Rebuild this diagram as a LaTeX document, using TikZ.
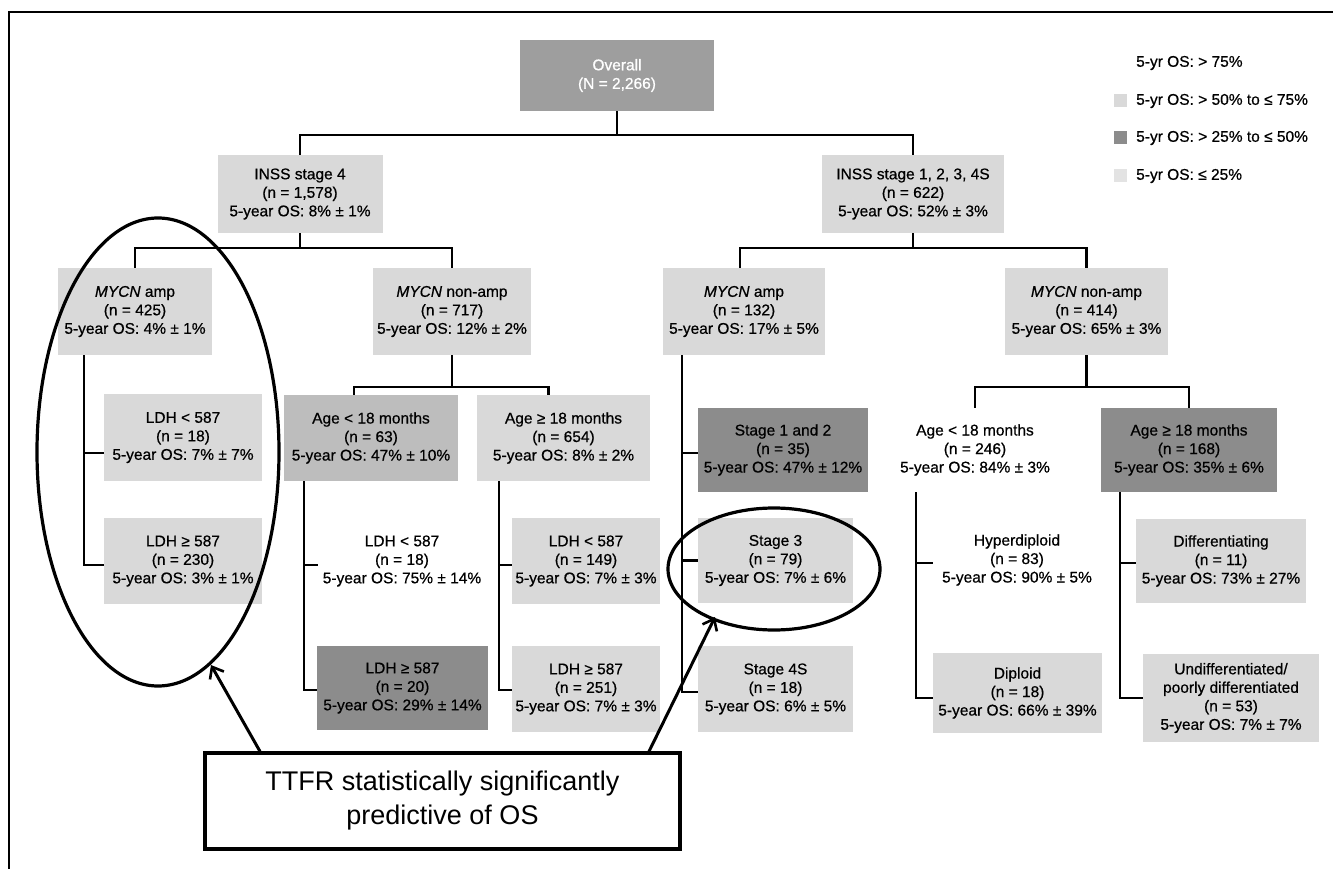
\documentclass[tikz,border=0pt]{standalone}
\usepackage{fontspec}
\setmainfont{Liberation Sans}[FakeBold=0.6]
\newfontfamily\calloutfont{Liberation Sans}
\usetikzlibrary{arrows.meta}
\definecolor{cLight}{gray}{0.85}
\definecolor{cPale}{gray}{0.89}
\definecolor{cMid}{gray}{0.74}
\definecolor{cDark}{gray}{0.55}
\definecolor{cTop}{gray}{0.62}
\begin{document}
\begin{tikzpicture}[x=1pt,y=-1pt,
  bx/.style={inner sep=0pt, align=center, font=\fontsize{15.5}{18.5}\selectfont},
  lt/.style={bx, fill=cLight},
  md/.style={bx, fill=cMid},
  dk/.style={bx, fill=cDark},
  wt/.style={bx},
  conn/.style={line width=2.4pt},
  ring/.style={line width=3.2pt},
  callout/.style={line width=3pt, -{Straight Barb[length=10pt,width=16pt,line width=2.6pt]}},
  legtext/.style={anchor=west, inner sep=0pt, font=\fontsize{15.5}{18}\selectfont},
  swatch/.style={inner sep=0pt, minimum width=13pt, minimum height=13pt}
]
\fill[white] (0,0) rectangle (1333,869);
\useasboundingbox (0,0) rectangle (1333,869);
% frame
\draw[line width=1.2pt] (9,869) -- (9,12) -- (1333,12);

% level 0
\node[bx, fill=cTop, text=white, minimum width=194pt, minimum height=71pt] (overall) at (617,75.5) {Overall\\(N = 2,266)};
% level 1
\node[lt, minimum width=165pt, minimum height=78pt] (inss4) at (300,194) {INSS stage 4\\(n = 1,578)\\5-year OS: 8\% ± 1\%};
\node[lt, minimum width=182pt, minimum height=78pt] (inssR) at (913,194) {INSS stage 1, 2, 3, 4S\\(n = 622)\\5-year OS: 52\% ± 3\%};
% level 2
\node[lt, minimum width=154pt, minimum height=87pt] (mycnA1) at (135,311.5) {\textit{MYCN} amp\\(n = 425)\\5-year OS: 4\% ± 1\%};
\node[lt, minimum width=158pt, minimum height=87pt] (mycnN1) at (452,311.5) {\textit{MYCN} non-amp\\(n = 717)\\5-year OS: 12\% ± 2\%};
\node[lt, minimum width=162pt, minimum height=87pt] (mycnA2) at (744,311.5) {\textit{MYCN} amp\\(n = 132)\\5-year OS: 17\% ± 5\%};
\node[lt, minimum width=163pt, minimum height=87pt] (mycnN2) at (1086.5,311.5) {\textit{MYCN} non-amp\\(n = 414)\\5-year OS: 65\% ± 3\%};
% level 3 left
\node[lt, minimum width=158pt, minimum height=87pt] (ldh1a) at (183,437.5) {LDH < 587\\(n = 18)\\5-year OS: 7\% ± 7\%};
\node[lt, minimum width=158pt, minimum height=86pt] (ldh1b) at (183,561) {LDH ≥ 587\\(n = 230)\\5-year OS: 3\% ± 1\%};
\node[md, minimum width=174pt, minimum height=86pt] (age1a) at (371,438) {Age < 18 months\\(n = 63)\\5-year OS: 47\% ± 10\%};
\node[lt, minimum width=173pt, minimum height=86pt] (age1b) at (563.5,438) {Age ≥ 18 months\\(n = 654)\\5-year OS: 8\% ± 2\%};
\node[wt, minimum width=168pt, minimum height=86pt] (ldh2a) at (402,561) {LDH < 587\\(n = 18)\\5-year OS: 75\% ± 14\%};
\node[dk, minimum width=171pt, minimum height=84pt] (ldh2b) at (402.5,688) {LDH ≥ 587\\(n = 20)\\5-year OS: 29\% ± 14\%};
\node[lt, minimum width=148pt, minimum height=86pt] (ldh3a) at (586,561) {LDH < 587\\(n = 149)\\5-year OS: 7\% ± 3\%};
\node[lt, minimum width=148pt, minimum height=86pt] (ldh3b) at (586,689) {LDH ≥ 587\\(n = 251)\\5-year OS: 7\% ± 3\%};
% level 3 right
\node[dk, minimum width=170pt, minimum height=84pt] (stage12) at (783,450) {Stage 1 and 2\\(n = 35)\\5-year OS: 47\% ± 12\%};
\node[lt, minimum width=155pt, minimum height=85pt] (stage3) at (775.5,560.5) {Stage 3\\(n = 79)\\5-year OS: 7\% ± 6\%};
\node[lt, minimum width=155pt, minimum height=86pt] (stage4s) at (775.5,689) {Stage 4S\\(n = 18)\\5-year OS: 6\% ± 5\%};
\node[wt, minimum width=160pt, minimum height=84pt] (age2a) at (975,450) {Age < 18 months\\(n = 246)\\5-year OS: 84\% ± 3\%};
\node[dk, minimum width=176pt, minimum height=84pt] (age2b) at (1189,450) {Age ≥ 18 months\\(n = 168)\\5-year OS: 35\% ± 6\%};
\node[wt, minimum width=168pt, minimum height=85pt] (hyper) at (1017,560) {Hyperdiploid\\(n = 83)\\5-year OS: 90\% ± 5\%};
\node[lt, minimum width=169pt, minimum height=80pt] (diploid) at (1017.5,693) {Diploid\\(n = 18)\\5-year OS: 66\% ± 39\%};
\node[lt, minimum width=170pt, minimum height=84pt] (diff) at (1221,561) {Differentiating\\(n = 11)\\5-year OS: 73\% ± 27\%};
\node[lt, minimum width=176pt, minimum height=88pt] (undiff) at (1231,698) {Undifferentiated/\\poorly differentiated\\(n = 53)\\5-year OS: 7\% ± 7\%};

% connectors: tree junctions
\path (overall.south) ++(0,24) coordinate (j0);
\draw[conn] (overall.south) -- (j0);
\draw[conn] (inss4.north) |- (j0) -| (inssR.north);
\path (inss4.south) ++(0,15) coordinate (j1);
\draw[conn] (inss4.south) -- (j1);
\draw[conn] (mycnA1.north) |- (j1) -| (mycnN1.north);
\path (inssR.south) ++(0,15) coordinate (j2);
\draw[conn] (inssR.south) -- (j2);
\draw[conn] ([xshift=-4pt]mycnA2.north) |- (j2) -| (mycnN2.north);
\path (mycnN1.south) ++(0,32) coordinate (j3);
\draw[conn] (mycnN1.south) -- (j3);
\draw[conn] ([xshift=-17pt]age1a.north) |- (j3) -| ([xshift=-15pt]age1b.north);
\path (mycnN2.south) ++(0,32) coordinate (j4);
\draw[conn] (mycnN2.south) -- (j4);
\draw[conn] (age2a.north) |- (j4) -| (age2b.north);

% connectors: side branches
\draw[conn] ([yshift=-15.5pt]ldh1a.west) -| ([xshift=-51pt]mycnA1.south);
\draw[conn] ([yshift=-4pt]ldh1b.west) -| ([xshift=-51pt]mycnA1.south);
\draw[conn] ([yshift=-4pt]ldh2a.west) -| ([xshift=-67pt]age1a.south);
\draw[conn] ([yshift=-2pt]ldh2b.west) -| ([xshift=-67pt]age1a.south);
\draw[conn] ([yshift=-4pt]ldh3a.west) -| ([xshift=-64.5pt]age1b.south);
\draw[conn] ([yshift=-1pt]ldh3b.west) -| ([xshift=-64.5pt]age1b.south);
\draw[conn] ([yshift=-3pt]stage12.west) -| ([xshift=-62pt]mycnA2.south);
\draw[conn] (stage3.west) -| ([xshift=-62pt]mycnA2.south);
\draw[conn] ([yshift=-3pt]stage4s.west) -| ([xshift=-62pt]mycnA2.south);
\draw[conn] ([yshift=-3pt]hyper.west) -| ([xshift=-59pt]age2a.south);
\draw[conn] ([yshift=-5pt]diploid.west) -| ([xshift=-59pt]age2a.south);
\draw[conn] ([yshift=-2pt]diff.west) -| ([xshift=-69pt]age2b.south);
\draw[conn] (undiff.west) -| ([xshift=-69pt]age2b.south);

% highlight rings
\draw[ring] (158,452) ellipse [x radius=121, y radius=234];
\draw[ring] (774,569) ellipse [x radius=106, y radius=61];

% callout box and arrows
\node[draw, line width=3.2pt, inner sep=0pt, minimum width=475pt, minimum height=96pt, align=center,
      font=\calloutfont\fontsize{27}{34}\selectfont] (ttfr) at (442.5,801) {TTFR statistically significantly\\predictive of OS};
\coordinate (tipL) at (211,665);
\coordinate (tipR) at (715,617);
\draw[callout] ([xshift=-182.5pt]ttfr.north) -- (tipL);
\draw[callout] ([xshift=206.5pt]ttfr.north) -- (tipR);

% legend
\node[legtext] (lg1) at (1136,63) {5-yr OS: > 75\%};
\node[legtext] (lg2) at (1136,101) {5-yr OS: > 50\% to ≤ 75\%};
\node[legtext] (lg3) at (1136,138) {5-yr OS: > 25\% to ≤ 50\%};
\node[legtext] (lg4) at (1136,176) {5-yr OS: ≤ 25\%};
\node[swatch, fill=cLight] (sw2) at (1120.5,101) {};
\node[swatch, fill=cDark] (sw3) at (1120.5,138) {};
\node[swatch, fill=cPale] (sw4) at (1120.5,176) {};
\end{tikzpicture}
\end{document}
